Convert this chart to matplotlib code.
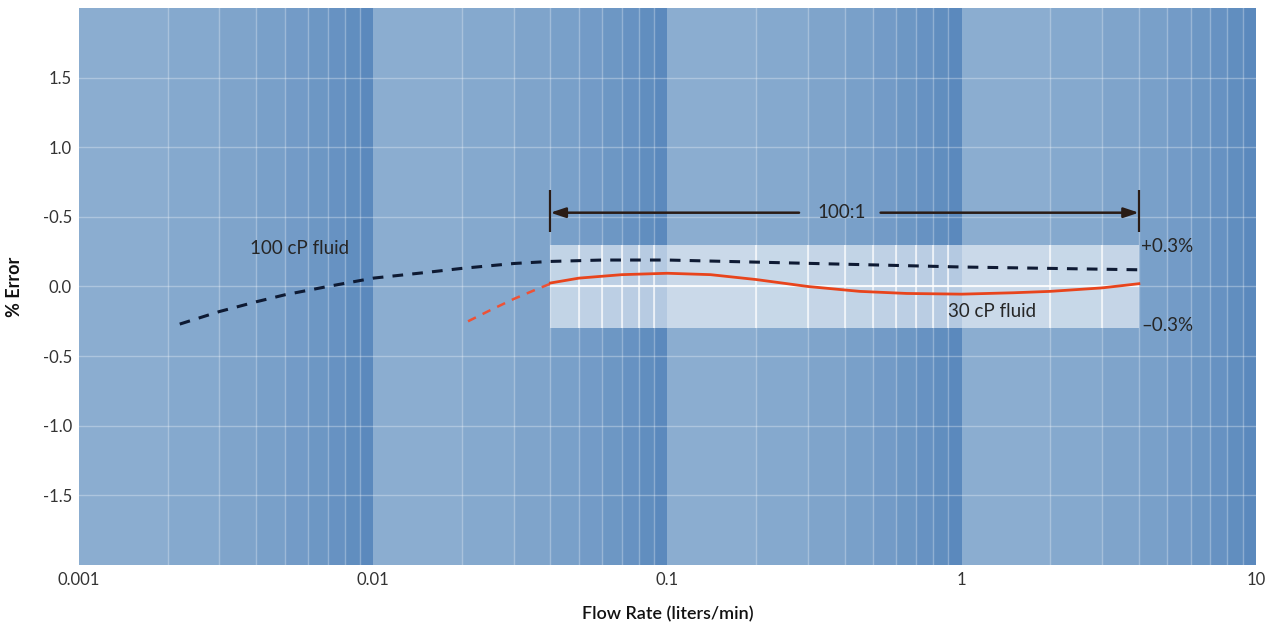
import numpy as np
import matplotlib
matplotlib.use("Agg")
import matplotlib.pyplot as plt
from matplotlib.colors import to_rgb

plt.rcParams['font.family'] = ['Lato', 'DejaVu Sans']

# 100 cP fluid (dashed navy)
flow_100cp = [0.0022, 0.003, 0.004, 0.005, 0.007, 0.01, 0.015, 0.02, 0.03,
              0.04, 0.06, 0.1, 0.2, 0.4, 1.0, 2.0, 4.0]
err_100cp = [-0.27, -0.18, -0.11, -0.06, 0.0, 0.06, 0.10, 0.13, 0.165,
             0.18, 0.19, 0.19, 0.175, 0.16, 0.14, 0.13, 0.12]

# 30 cP fluid, below the rated range (dashed) and inside it (solid)
flow_30cp_low = [0.021, 0.025, 0.03, 0.035, 0.04]
err_30cp_low = [-0.25, -0.17, -0.09, -0.03, 0.02]
flow_30cp = [0.04, 0.05, 0.07, 0.1, 0.14, 0.2, 0.3, 0.45, 0.65, 1.0, 1.5,
             2.0, 3.0, 4.0]
err_30cp = [0.025, 0.06, 0.085, 0.095, 0.085, 0.05, 0.0, -0.035, -0.05,
            -0.055, -0.045, -0.035, -0.01, 0.02]

# rated 100:1 range and its +/-0.3 % accuracy band
range_lo, range_hi = 0.04, 4.0
band = 0.3

xticks = [0.001, 0.01, 0.1, 1, 10]
xtick_labels = ['0.001', '0.01', '0.1', '1', '10']
yticks = [1.5, 1.0, 0.5, 0.0, -0.5, -1.0, -1.5]
ytick_labels = ['1.5', '1.0', '-0.5', '0.0', '-0.5', '-1.0', '-1.5']

txt = '#262626'

fig = plt.figure(figsize=(12.76, 6.30), dpi=100)
ax = fig.add_axes([0.0619, 0.1032, 0.9224, 0.8841])
ax.set_xscale('log')
ax.set_xlim(0.001, 10)
ax.set_ylim(-2, 2)

# shaded columns, darker towards the end of each decade
light = np.array(to_rgb('#8badd0'))
dark = np.array(to_rgb('#5b89bd'))
minors = []
for d in [0.001, 0.01, 0.1, 1]:
    for k in range(1, 10):
        c = light + (dark - light) * (k - 1) / 8
        ax.axvspan(d * k, d * (k + 1), color=c, lw=0, zorder=0)
        if k > 1:
            minors.append(d * k)

# accuracy band
ax.fill_between([range_lo, range_hi], -band, band, color='white',
                alpha=0.55, lw=0, zorder=1)

# grid
for m in minors:
    ax.axvline(m, color='white', lw=1, alpha=0.3, zorder=2)
for y in yticks:
    ax.axhline(y, color='white', lw=1, alpha=0.3, zorder=2)
inside = [m for m in minors if range_lo < m < range_hi]
ax.vlines(inside, -band, band, color='white', lw=1.2, alpha=0.75, zorder=2)
ax.hlines(0, range_lo, range_hi, color='white', lw=1.5, alpha=0.85, zorder=2)

# curves
ax.plot(flow_100cp, err_100cp, color='#0e1a33', lw=2.2, ls=(0, (3.5, 3)),
        zorder=4)
ax.plot(flow_30cp_low, err_30cp_low, color='#ee5236', lw=1.8, ls=(0, (3.5, 3)),
        zorder=4)
ax.plot(flow_30cp, err_30cp, color='#e8441c', lw=2, zorder=4)

# 100:1 range marker
ya = 0.53
arr = dict(arrowstyle='-|>,head_length=0.9,head_width=0.3', color='#2a1c16',
           lw=1.8, shrinkA=0, shrinkB=0)
ax.annotate('', xy=(range_lo, ya), xytext=(0.28, ya), arrowprops=arr, zorder=5)
ax.annotate('', xy=(range_hi, ya), xytext=(0.53, ya), arrowprops=arr, zorder=5)
ax.vlines([range_lo, range_hi], 0.39, 0.69, color='#2a1c16', lw=1.6, zorder=5)
ax.text(0.39, ya, '100:1', ha='center', va='center', fontsize=13.5,
        color=txt, zorder=5)

ax.text(range_hi * 1.02, band - 0.01, '+0.3%', ha='left', va='center',
        fontsize=13.5, color=txt, zorder=5)
ax.text(range_hi * 1.02, -band + 0.02, '\u20130.3%', ha='left', va='center',
        fontsize=13.5, color=txt, zorder=5)
ax.text(0.0038, 0.27, '100 cP fluid', ha='left', va='center', fontsize=13.5,
        color=txt, zorder=5)
ax.text(0.9, -0.18, '30 cP fluid', ha='left', va='center', fontsize=13.5,
        color=txt, zorder=5)

ax.set_xticks(xticks)
ax.set_xticklabels(xtick_labels)
ax.xaxis.set_minor_locator(matplotlib.ticker.NullLocator())
ax.set_yticks(yticks)
ax.set_yticklabels(ytick_labels)
ax.tick_params(length=0, labelsize=12, colors='#333333', pad=5)
for s in ax.spines.values():
    s.set_visible(False)

ax.set_xlabel('Flow Rate (liters/min)', fontsize=13, color='#111111',
              labelpad=13, fontweight='semibold')
ax.set_ylabel('% Error', fontsize=13, color='#111111', labelpad=14,
              fontweight='bold')

fig.savefig('out.png', dpi=100)
